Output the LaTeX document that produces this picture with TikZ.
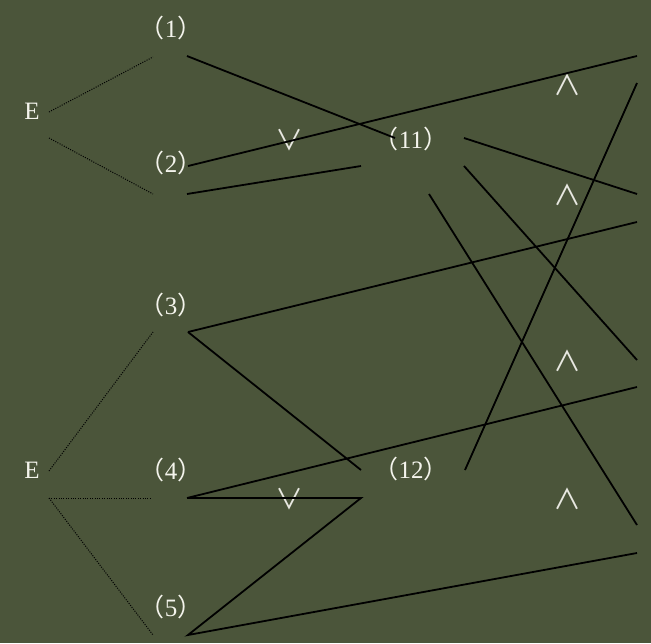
\documentclass[tikz,border=0pt]{standalone}
\usepackage{fontspec}
\setmainfont{Liberation Serif}
\newfontfamily\cjk{Noto Sans CJK SC}
\usepackage{xcolor}
\definecolor{boardgreen}{HTML}{4B553A}
\definecolor{chalk}{HTML}{F4F4EC}
\newcommand{\pnum}[1]{{\cjk （}#1{\cjk ）}}
\tikzset{
    treelabel/.style={text=chalk, font=\fontsize{25}{25}\selectfont, inner sep=0pt},
    treeop/.style={text=chalk!90!gray, font=\cjk\fontsize{28}{28}\selectfont, inner sep=0pt},
    treedot/.style={draw=black, line width=1pt, dash pattern=on 1pt off 1.4pt},
    treeline/.style={draw=black, line width=1.8pt}
}
\begin{document}
\begin{tikzpicture}[x=1pt, y=-1pt]
    \fill[boardgreen] (0,0) rectangle (651,643);
    \useasboundingbox (0,0) rectangle (651,643);

    % labels
    \node[treelabel] (e1) at (32,111) {E};
    \node[treelabel] (e2) at (32,470) {E};
    \node[treelabel] (n1) at (171,28) {\pnum{1}};
    \node[treelabel] (n2) at (171,163) {\pnum{2}};
    \node[treelabel] (n3) at (171,305) {\pnum{3}};
    \node[treelabel] (n4) at (171,470) {\pnum{4}};
    \node[treelabel] (n5) at (171,607) {\pnum{5}};
    \node[treelabel] (n11) at (411,139) {\pnum{11}};
    \node[treelabel] (n12) at (411,469) {\pnum{12}};
    \node[treeop] (or1) at (289,140) {∨};
    \node[treeop] (or2) at (289,499) {∨};
    \node[treeop] (and1) at (567,85) {∧};
    \node[treeop] (and2) at (567,195) {∧};
    \node[treeop] (and3) at (567,361) {∧};
    \node[treeop] (and4) at (567,499) {∧};

    % end points
    \coordinate (e1a) at (49,112);
    \coordinate (e1b) at (49,138);
    \coordinate (e2a) at (49,471);
    \coordinate (e2b) at (49,498);
    \coordinate (d1) at (153,57);
    \coordinate (d2) at (153,194);
    \coordinate (d3) at (153,332);
    \coordinate (d4) at (152,498);
    \coordinate (d5) at (153,635);
    \coordinate (s1) at (187,56);
    \coordinate (s2a) at (188,166);
    \coordinate (s2b) at (187,194);
    \coordinate (s3) at (188,332);
    \coordinate (s4) at (187,498);
    \coordinate (s5) at (188,635);
    \coordinate (c11a) at (395,138);
    \coordinate (c11b) at (361,166);
    \coordinate (c11c) at (464,138);
    \coordinate (c11d) at (464,166);
    \coordinate (c11e) at (429,194);
    \coordinate (c12a) at (361,470);
    \coordinate (c12b) at (361,498);
    \coordinate (c12c) at (465,470);
    \coordinate (r1) at (637,56);
    \coordinate (r2) at (637,83);
    \coordinate (r3) at (637,194);
    \coordinate (r4) at (637,222);
    \coordinate (r5) at (637,360);
    \coordinate (r6) at (637,387);
    \coordinate (r7) at (637,525);
    \coordinate (r8) at (637,553);

    % dotted branches
    \draw[treedot] (e1a) -- (d1);
    \draw[treedot] (e1b) -- (d2);
    \draw[treedot] (e2a) -- (d3);
    \draw[treedot] (e2b) -- (d4);
    \draw[treedot] (e2b) -- (d5);

    % solid links
    \draw[treeline] (s1) -- (c11a);
    \draw[treeline] (s2a) -- (r1);
    \draw[treeline] (s2b) -- (c11b);
    \draw[treeline] (c11c) -- (r3);
    \draw[treeline] (c11d) -- (r5);
    \draw[treeline] (c11e) -- (r7);
    \draw[treeline] (r2) -- (c12c);
    \draw[treeline] (s3) -- (r4);
    \draw[treeline] (s3) -- (c12a);
    \draw[treeline] (s4) -- (r6);
    \draw[treeline] (s4) -- (c12b) -- (s5) -- (r8);
\end{tikzpicture}
\end{document}
